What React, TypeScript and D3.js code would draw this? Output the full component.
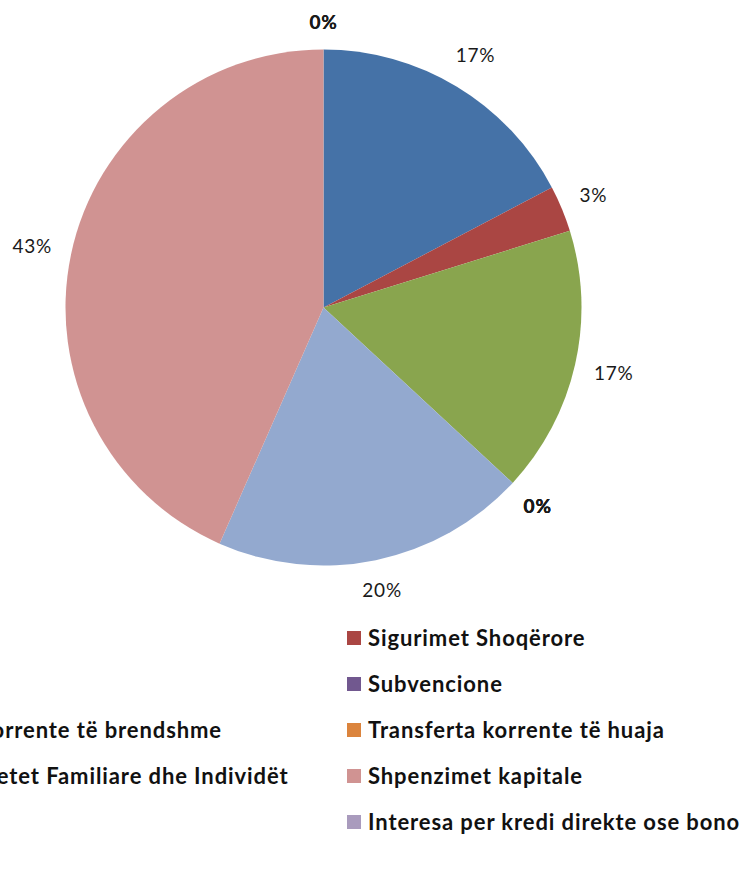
import * as d3 from "d3";
import { useLayoutEffect, useRef, useState } from "react";

// Shares of spending, in series order
const categories = [
  "Pagat",
  "Sigurimet Shoqërore",
  "Operative",
  "Subvencione",
  "Transferta korrente të brendshme",
  "Transferta korrente të huaja",
  "Transf. Buxhetet Familiare dhe Individët",
  "Shpenzimet kapitale",
  "Rezerva",
  "Interesa per kredi direkte ose bono",
];
const values = [17.3, 2.9, 16.7, 0, 0, 0, 19.7, 43.4, 0, 0];
const colors = [
  "#4572A7",
  "#AA4643",
  "#89A54E",
  "#71588F",
  "#4198AF",
  "#DB843D",
  "#93A9CF",
  "#D09392",
  "#B9CD96",
  "#A99BBD",
];

type Slice = { name: string; value: number; color: string };

export default function App() {
  const width = 744;
  const height = 879;
  const cx = 323.5;
  const cy = 307.5;
  const radius = 258;

  const data: Slice[] = categories.map((name, i) => ({ name, value: values[i], color: colors[i] }));
  const total = d3.sum(values);

  const pie = d3.pie<Slice>().sort(null).value((d) => d.value);
  const arcs = pie(data);
  const arc = d3.arc<d3.PieArcDatum<Slice>>().innerRadius(0).outerRadius(radius);

  const labelFont = 19;
  const gap = 19.5;

  // legend layout: left column is partly outside the frame, its 3rd row ends at x=222
  const rowY = [638, 684, 730, 776, 822];
  const rightX = 347;
  const measureRef = useRef<SVGTextElement>(null);
  const [leftX, setLeftX] = useState(-190);
  useLayoutEffect(() => {
    if (measureRef.current) {
      const w = measureRef.current.getComputedTextLength();
      setLeftX(222 - w - 21);
    }
  }, []);

  return (
    <svg
      width={width}
      height={height}
      style={{ position: "absolute", left: 0, top: 0, background: "white" }}
    >
      <g transform={`translate(${cx},${cy})`}>
        {arcs.map((a, i) =>
          a.value > 0 ? <path key={i} d={arc(a) ?? ""} fill={a.data.color} /> : null
        )}
        {arcs.map((a, i) => {
          const label = `${Math.round((a.value / total) * 100)}%`;
          const mid = (a.startAngle + a.endAngle) / 2;
          const ux = Math.sin(mid);
          const uy = -Math.cos(mid);
          const hw = label.length * labelFont * 0.33;
          const hh = 8;
          const dist = radius + gap + Math.abs(ux) * hw + Math.abs(uy) * hh;
          return (
            <text
              key={i}
              x={ux * dist}
              y={uy * dist}
              dy="0.35em"
              textAnchor="middle"
              fontFamily="Lato, sans-serif"
              fontSize={labelFont}
              letterSpacing={0.8}
              fontWeight={a.value === 0 ? 700 : 400}
              fill="#1a1a1a"
            >
              {label}
            </text>
          );
        })}
      </g>
      <g fontFamily="Lato, sans-serif" fontWeight={700} fontSize={22} letterSpacing={0.9} fill="#111">
        {data.map((d, i) => {
          const x = i % 2 === 0 ? leftX : rightX;
          const y = rowY[Math.floor(i / 2)];
          return (
            <g key={i}>
              <rect x={x} y={y - 7} width={14} height={14} fill={d.color} />
              <text ref={i === 4 ? measureRef : undefined} x={x + 21} y={y} dy="0.35em">
                {d.name}
              </text>
            </g>
          );
        })}
      </g>
    </svg>
  );
}
